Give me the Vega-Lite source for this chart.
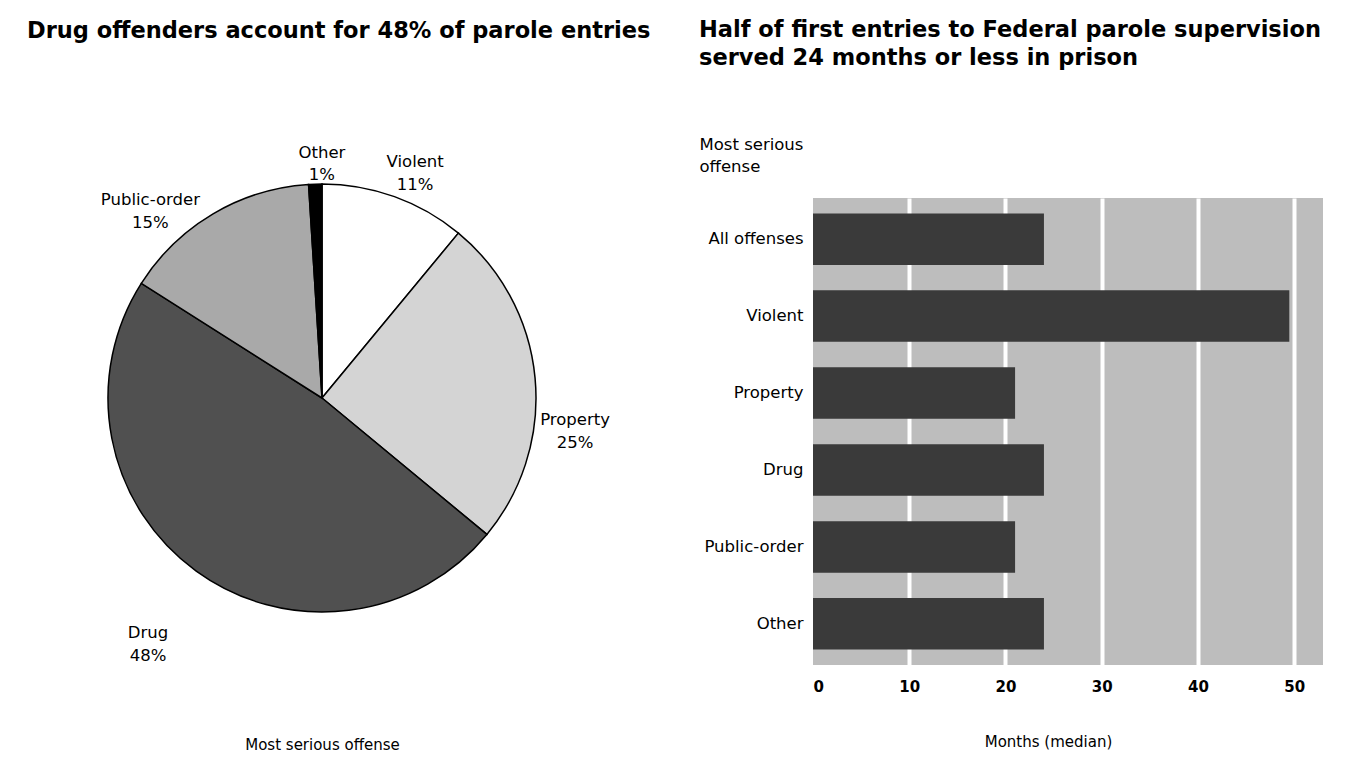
{
  "$schema": "https://vega.github.io/schema/vega-lite/v6.json",
  "background": "white",
  "padding": {"left": 5, "top": 19, "right": 5, "bottom": 5},
  "spacing": 48,
  "config": {
    "font": "DejaVu Sans",
    "view": {"stroke": null},
    "title": {"font": "DejaVu Sans", "fontWeight": "bold", "fontSize": 22.5, "color": "black", "anchor": "start"},
    "axis": {"labelFont": "DejaVu Sans", "titleFont": "DejaVu Sans", "labelColor": "black", "titleColor": "black"},
    "text": {"font": "DejaVu Sans"}
  },
  "datasets": {
    "pie": [
      {"cat": "Violent", "pct": 11, "ord": 1, "label": "Violent\n11%"},
      {"cat": "Property", "pct": 25, "ord": 2, "label": "Property\n25%"},
      {"cat": "Drug", "pct": 48, "ord": 3, "label": "Drug\n48%"},
      {"cat": "Public-order", "pct": 15, "ord": 4, "label": "Public-order\n15%"},
      {"cat": "Other", "pct": 1, "ord": 5, "label": "Other\n1%"}
    ],
    "bars": [
      {"offense": "All offenses", "months": 24},
      {"offense": "Violent", "months": 49.5},
      {"offense": "Property", "months": 21},
      {"offense": "Drug", "months": 24},
      {"offense": "Public-order", "months": 21},
      {"offense": "Other", "months": 24}
    ]
  },
  "hconcat": [
    {
      "width": 634,
      "height": 400,
      "data": {"name": "pie"},
      "title": {"text": "Drug offenders account for 48% of parole entries", "dx": 22, "offset": 56},
      "layer": [
        {
          "mark": {"type": "point", "opacity": 0},
          "encoding": {
            "x": {"field": "cat", "type": "nominal",
              "axis": {"labels": false, "ticks": false, "domain": false, "grid": false, "title": "Most serious offense",
                       "titleFontSize": 15, "titleFontWeight": "normal", "titlePadding": 139}}
          }
        },
        {
          "mark": {"type": "arc", "outerRadius": 214, "stroke": "black", "strokeWidth": 1.5},
          "encoding": {
            "theta": {"field": "pct", "type": "quantitative", "stack": true},
            "order": {"field": "ord", "type": "quantitative"},
            "color": {"field": "cat", "type": "nominal", "legend": null,
              "scale": {"domain": ["Violent", "Property", "Drug", "Public-order", "Other"],
                        "range": ["#ffffff", "#d4d4d4", "#505050", "#a9a9a9", "#000000"]}}
          }
        },
        {
          "mark": {"type": "text", "radius": 254, "thetaOffset": 0.03, "fontSize": 16.5, "lineHeight": 23, "lineBreak": "\n", "align": "center", "baseline": "middle", "color": "black"},
          "encoding": {
            "theta": {"field": "pct", "type": "quantitative", "stack": true},
            "order": {"field": "ord", "type": "quantitative"},
            "text": {"condition": {"test": "datum.cat === 'Violent'", "field": "label", "type": "nominal"}, "value": ""}
          }
        },
        {
          "mark": {"type": "text", "radius": 254, "thetaOffset": 0.18, "fontSize": 16.5, "lineHeight": 23, "lineBreak": "\n", "align": "center", "baseline": "middle", "color": "black"},
          "encoding": {
            "theta": {"field": "pct", "type": "quantitative", "stack": true},
            "order": {"field": "ord", "type": "quantitative"},
            "text": {"condition": {"test": "datum.cat === 'Property'", "field": "label", "type": "nominal"}, "value": ""}
          }
        },
        {
          "mark": {"type": "text", "radius": 292, "thetaOffset": 0.01, "fontSize": 16.5, "lineHeight": 23, "lineBreak": "\n", "align": "center", "baseline": "middle", "color": "black"},
          "encoding": {
            "theta": {"field": "pct", "type": "quantitative", "stack": true},
            "order": {"field": "ord", "type": "quantitative"},
            "text": {"condition": {"test": "datum.cat === 'Drug'", "field": "label", "type": "nominal"}, "value": ""}
          }
        },
        {
          "mark": {"type": "text", "radius": 262, "thetaOffset": -0.18, "fontSize": 16.5, "lineHeight": 23, "lineBreak": "\n", "align": "center", "baseline": "middle", "color": "black"},
          "encoding": {
            "theta": {"field": "pct", "type": "quantitative", "stack": true},
            "order": {"field": "ord", "type": "quantitative"},
            "text": {"condition": {"test": "datum.cat === 'Public-order'", "field": "label", "type": "nominal"}, "value": ""}
          }
        },
        {
          "mark": {"type": "text", "radius": 245, "thetaOffset": 0.031, "fontSize": 16.5, "lineHeight": 22, "lineBreak": "\n", "align": "center", "baseline": "middle", "color": "black"},
          "encoding": {
            "theta": {"field": "pct", "type": "quantitative", "stack": true},
            "order": {"field": "ord", "type": "quantitative"},
            "text": {"condition": {"test": "datum.cat === 'Other'", "field": "label", "type": "nominal"}, "value": ""}
          }
        }
      ]
    },
    {
      "width": 510,
      "height": 467,
      "data": {"name": "bars"},
      "view": {"fill": "#bdbdbd", "stroke": null},
      "title": {"text": ["Half of first entries to Federal parole supervision", "served 24 months or less in prison"], "lineHeight": 28, "offset": 66.5},
      "mark": {"type": "bar", "color": "#3a3a3a"},
      "encoding": {
        "y": {
          "field": "offense", "type": "nominal", "sort": null,
          "scale": {"paddingInner": 0.33, "paddingOuter": 0.2},
          "axis": {
            "title": ["Most serious", "offense"], "titleAngle": 0, "titleAlign": "left", "titleBaseline": "top",
            "titleX": -114, "titleY": -62, "titleFontWeight": "normal", "titleFontSize": 16.5, "titleLineHeight": 22,
            "labelFontSize": 16.5, "labelPadding": 10, "ticks": false, "domain": false
          }
        },
        "x": {
          "field": "months", "type": "quantitative",
          "scale": {"domain": [0, 53], "nice": false},
          "axis": {
            "values": [0, 10, 20, 30, 40, 50], "grid": true, "gridColor": "white", "gridWidth": 4,
            "gridOpacity": {"condition": {"test": "datum.value === 0", "value": 0}, "value": 1},
            "ticks": false, "domain": false, "labelFontSize": 15, "labelFontWeight": "bold", "labelPadding": 14,
            "title": "Months  (median)", "titleFontSize": 15, "titleFontWeight": "normal", "titlePadding": 40,
            "titleX": 235
          }
        }
      }
    }
  ]
}
